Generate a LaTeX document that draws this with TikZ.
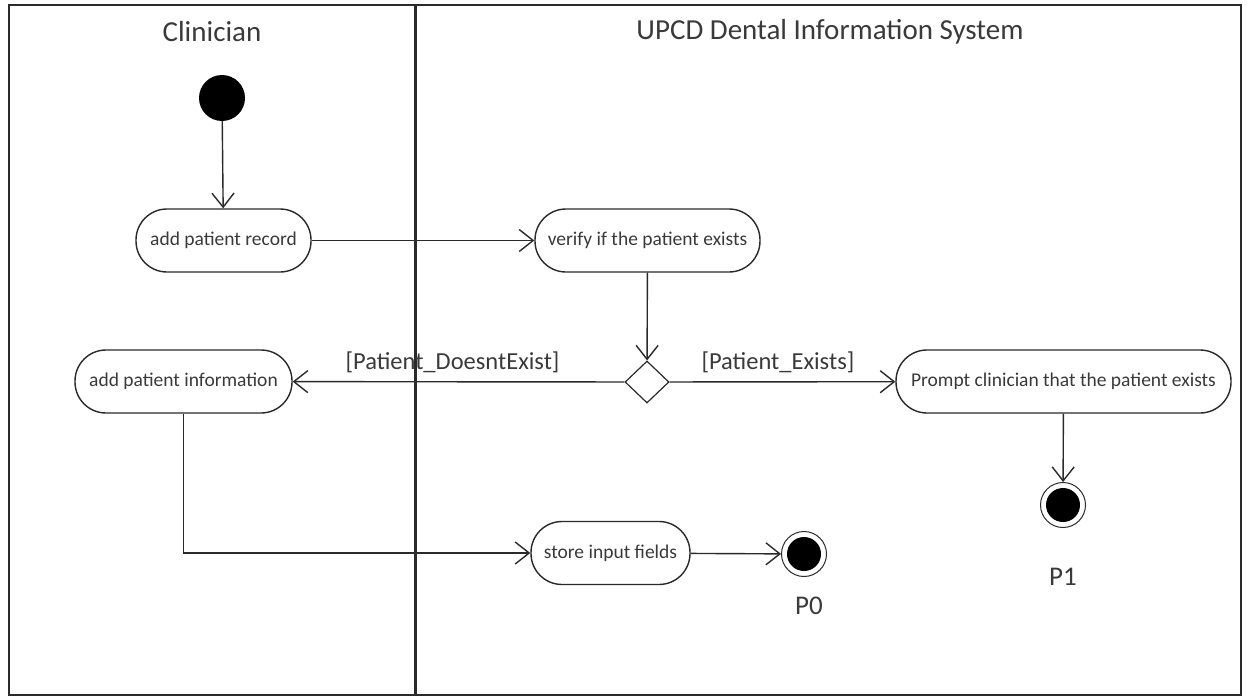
\documentclass[tikz,border=0pt]{standalone}
\usepackage{fontspec}
\setmainfont{Carlito}
\usetikzlibrary{arrows.meta,shapes.geometric}
\definecolor{txt}{HTML}{3A3A3A}
\definecolor{ln}{HTML}{2A2A2A}
\begin{document}
\begin{tikzpicture}[x=1pt,y=-1pt,
  lanetitle/.style={text=txt,font=\fontsize{29}{32}\selectfont},
  action/.style={draw=ln,line width=1.4pt,rounded corners=31pt,fill=white,
    text=txt,font=\fontsize{19.5}{22}\selectfont,inner sep=0pt,minimum height=63pt},
  guard/.style={text=txt,font=\fontsize{24.5}{27}\selectfont},
  endlabel/.style={text=txt,font=\fontsize{27}{30}\selectfont},
  startnode/.style={circle,fill=black,minimum size=46pt,inner sep=0pt},
  endnode/.style={circle,draw=ln,line width=1pt,fill=white,minimum size=45pt,inner sep=0pt,
    path picture={\fill[black] (path picture bounding box.center) circle[radius=17pt];}},
  choice/.style={diamond,draw=ln,line width=1.2pt,fill=white,minimum width=44pt,minimum height=42pt,inner sep=0pt},
  flow/.style={draw=ln,line width=1.4pt,-{Straight Barb[length=14pt,width=22pt,line width=1.4pt]}},
]
\useasboundingbox (0,0) rectangle (1247,696);
\fill[white] (0,0) rectangle (1247,696);

% swimlane frame and divider
\draw[ln,line width=2pt] (9,5) rectangle (1241,695);
\draw[ln,line width=3pt] (415,5) -- (415,695);

% lane titles
\node[lanetitle] (laneA) at (212,32) {Clinician};
\node[lanetitle] (laneB) at (830,32) {UPCD Dental Information System};

% nodes
\node[startnode] (start) at (222,98) {};
\node[action,minimum width=175pt] (record) at (223.5,240.5) {add patient record};
\node[action,minimum width=225pt] (verify) at (647.5,240.5) {verify if the patient exists};
\node[choice] (dec) at (647,382) {};
\node[action,minimum width=217pt] (info) at (183.5,381.5) {add patient information};
\node[action,minimum width=335pt] (prompt) at (1063.5,381.5) {Prompt clinician that the patient exists};
\node[action,minimum width=159pt] (store) at (610.5,553) {store input fields};
\node[endnode] (p0) at (804,554) {};
\node[endnode] (p1) at (1063,505) {};
\node[endlabel] (p0lab) at (809,606) {P0};
\node[endlabel] (p1lab) at (1063,577) {P1};

% connectors
\draw[flow] (start) -- (record);
\draw[flow] (record) -- (verify);
\draw[flow] (verify) -- (dec);
\draw[flow] (dec) -- node[guard,above=5pt,pos=0.5,xshift=-6pt] (gno) {[Patient\_DoesntExist]} (info);
\draw[flow] (dec) -- node[guard,above=5pt,pos=0.48] (gyes) {[Patient\_Exists]} (prompt);
\draw[flow] (prompt) -- (p1);
\draw[flow] (info.south) |- (store.west);
\draw[flow] (store) -- (p0);
\end{tikzpicture}
\end{document}
